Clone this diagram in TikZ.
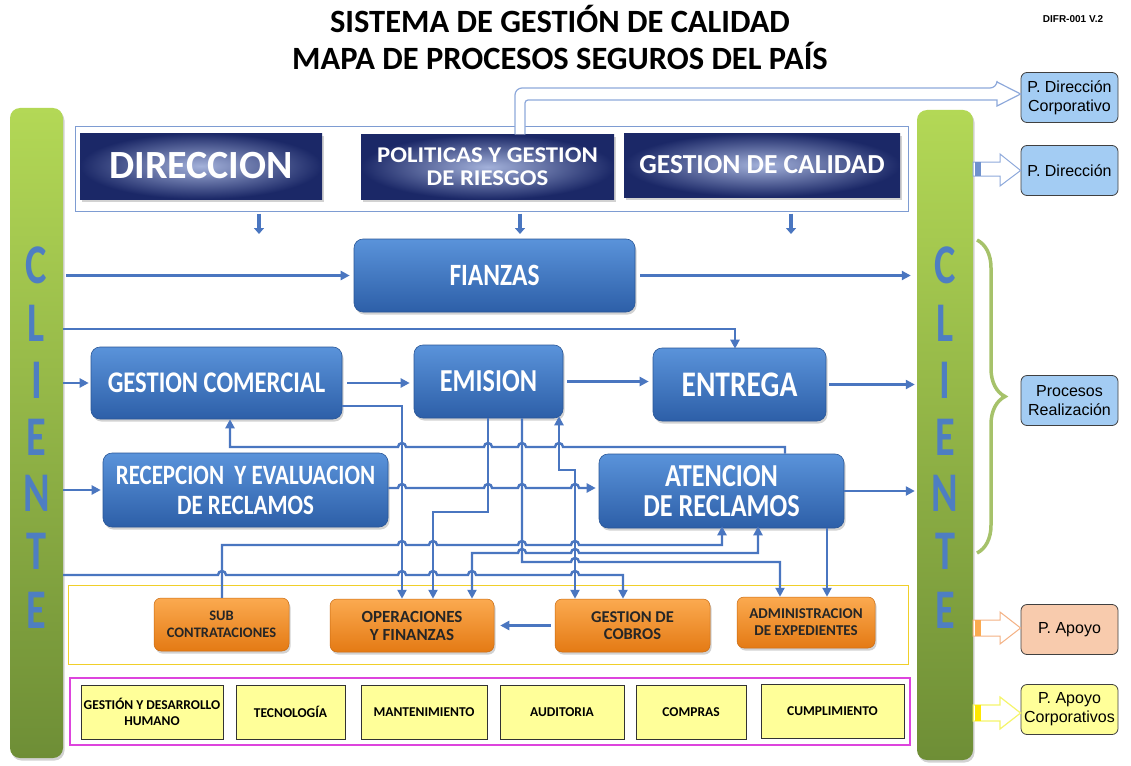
\documentclass[tikz,border=0pt]{standalone}
\usepackage{fontspec}
\setmainfont{Carlito}
\newfontfamily\condf[FakeStretch=0.82]{Carlito}
\newfontfamily\widef[FakeStretch=1.1]{Carlito}
\newfontfamily\clientf[FakeStretch=0.72]{Carlito}
\newfontfamily\arialf{Liberation Sans}
\usetikzlibrary{arrows.meta,shadows,decorations.pathreplacing}
\definecolor{connc}{HTML}{4A76C0}
\definecolor{boxT}{HTML}{5A93DA}
\definecolor{boxB}{HTML}{2D5FA8}
\definecolor{boxD}{HTML}{2A5797}
\definecolor{navyO}{HTML}{1B2867}
\definecolor{navyI}{HTML}{A3B1DA}
\definecolor{orT}{HTML}{FBAA50}
\definecolor{orB}{HTML}{E47A14}
\definecolor{orD}{HTML}{C96A10}
\definecolor{ylw}{HTML}{FFFF99}
\definecolor{grT}{HTML}{B3D856}
\definecolor{grB}{HTML}{6E8E36}
\definecolor{clientec}{HTML}{4E7EC2}
\definecolor{legblue}{HTML}{A3CCF3}
\definecolor{legor}{HTML}{F8CBAD}
\definecolor{frameblue}{HTML}{7E9CD2}
\definecolor{frameyel}{HTML}{F0CF2A}
\definecolor{framemag}{HTML}{DD44DD}
\definecolor{bracec}{HTML}{A6C26A}
\definecolor{hollowblue}{HTML}{8EA9DB}
\definecolor{hollowor}{HTML}{F4B183}
\definecolor{hollowyel}{HTML}{F5F56A}
\newcommand\hop[2]{-- ({#1-4},#2) arc[start angle=180,end angle=0,radius=4pt]}
\tikzset{
  shd/.style={drop shadow={opacity=0.35,shadow xshift=1.5pt,shadow yshift=-2.5pt}},
  bluebox/.style={rounded corners=9pt, top color=boxT, bottom color=boxB, draw=boxD, line width=0.6pt, shd, text=white, align=center, inner sep=0pt},
  navybox/.style={inner color=navyI, outer color=navyO, text=white, align=center, inner sep=0pt, shd},
  orbox/.style={rounded corners=7pt, top color=orT, bottom color=orB, draw=orD, line width=0.5pt, shd, text=black!85, align=center, inner sep=0pt},
  ybox/.style={fill=ylw, draw=black!80, line width=0.8pt, font=\bfseries\fontsize{13.5}{16}\selectfont, align=center, inner sep=0pt, minimum height=54pt},
  legbox/.style={rounded corners=6pt, draw=black!75, line width=0.8pt, font=\arialf\fontsize{16}{19}\selectfont, align=center, inner sep=0pt, minimum width=97pt, minimum height=50pt},
  bar/.style={rounded corners=10pt, top color=grT, bottom color=grB, shd, inner sep=0pt},
  cliente/.style={text=clientec, font=\clientf\bfseries\fontsize{56}{56}\selectfont, inner sep=0pt},
  conn/.style={draw=connc, line width=2.4pt},
  arr/.style={-{Triangle[length=9pt,width=9pt]}},
  rarr/.style={{Triangle[length=9pt,width=9pt]}-},
  darr/.style={{Triangle[length=9pt,width=9pt]}-{Triangle[length=9pt,width=9pt]}},
  fat/.style={draw=connc, line width=4.5pt, -{Triangle[length=6pt,width=10pt]}},
}
\begin{document}
\begin{tikzpicture}[x=1pt,y=-1pt]
\useasboundingbox[fill=white] (0,0) rectangle (1131,765);

% titles
\node[font=\bfseries\fontsize{32.5}{34}\selectfont] (t1) at (560,19) {SISTEMA DE GESTIÓN DE CALIDAD};
\node[font=\bfseries\fontsize{32.5}{34}\selectfont] (t2) at (560,56) {MAPA DE PROCESOS SEGUROS DEL PAÍS};
\node[font=\arialf\bfseries\fontsize{10}{12}\selectfont] (ver) at (1073,19) {DIFR-001 V.2};

% client bars
\node[bar, minimum width=53pt, minimum height=650pt] (lbar) at (36.5,433) {};
\node[bar, minimum width=56pt, minimum height=650pt] (rbar) at (945,435) {};
\foreach \l/\yy [count=\i] in {C/265,L/323,I/380,E/437,N/493,T/551,E/610}{
  \node[cliente] (cl\i) at (36.5,\yy) {\l};
  \node[cliente] (cr\i) at (945,\yy) {\l};
}

% frames
\node[draw=frameblue, line width=1pt, minimum width=833pt, minimum height=85pt, inner sep=0pt] (tf) at (491.5,168.5) {};
\node[draw=frameyel, line width=1pt, minimum width=840pt, minimum height=79pt, inner sep=0pt] (yf) at (488,624.5) {};
\node[draw=framemag, line width=1.6pt, minimum width=840pt, minimum height=67pt, inner sep=0pt] (pf) at (490,711.5) {};

% top boxes
\node[navybox, minimum width=242pt, minimum height=66pt, font=\bfseries\fontsize{40}{42}\selectfont] (dir) at (201,166) {DIRECCION};
\node[navybox, minimum width=253pt, minimum height=65pt, font=\widef\bfseries\fontsize{22.5}{23}\selectfont] (pol) at (487.5,167) {POLITICAS Y GESTION\\DE RIESGOS};
\node[navybox, minimum width=276pt, minimum height=64pt, font=\bfseries\fontsize{27.5}{30}\selectfont] (gdc) at (762,165) {GESTION DE CALIDAD};

% blue process boxes
\node[bluebox, minimum width=281pt, minimum height=73pt, font=\condf\bfseries\fontsize{31}{32}\selectfont] (fz) at (494.5,275.5) {FIANZAS};
\node[bluebox, minimum width=251pt, minimum height=72pt, font=\condf\bfseries\fontsize{30}{32}\selectfont] (gc) at (216.5,383) {GESTION COMERCIAL};
\node[bluebox, minimum width=149pt, minimum height=73pt, font=\condf\bfseries\fontsize{32}{34}\selectfont] (em) at (488.5,381.5) {EMISION};
\node[bluebox, minimum width=173pt, minimum height=73pt, font=\condf\bfseries\fontsize{36}{38}\selectfont] (en) at (739.5,384.5) {ENTREGA};
\node[bluebox, minimum width=285pt, minimum height=74pt, font=\condf\bfseries\fontsize{28}{30}\selectfont] (re) at (245.5,490) {RECEPCION\ \ Y EVALUACION\\DE RECLAMOS};
\node[bluebox, minimum width=245pt, minimum height=74pt, font=\condf\bfseries\fontsize{32}{30}\selectfont] (at) at (721.5,491) {ATENCION\\DE RECLAMOS};

% orange support boxes
\node[orbox, minimum width=135pt, minimum height=53pt, font=\bfseries\fontsize{14.5}{17}\selectfont] (sc) at (221.5,624.5) {SUB\\CONTRATACIONES};
\node[orbox, minimum width=164pt, minimum height=53pt, font=\bfseries\fontsize{17}{18}\selectfont] (op) at (412,625.5) {OPERACIONES\\Y FINANZAS};
\node[orbox, minimum width=155pt, minimum height=53pt, font=\bfseries\fontsize{16.5}{17}\selectfont] (co) at (632.5,625.5) {GESTION DE\\COBROS};
\node[orbox, minimum width=138pt, minimum height=51pt, font=\bfseries\fontsize{15}{17}\selectfont] (ad) at (806,622.5) {ADMINISTRACION\\DE EXPEDIENTES};

% yellow corporate support boxes
\node[ybox, minimum width=142pt] (y1) at (152,712) {GESTIÓN Y DESARROLLO\\HUMANO};
\node[ybox, minimum width=109pt] (y2) at (290.5,712) {TECNOLOGÍA};
\node[ybox, minimum width=126pt] (y3) at (424,712) {MANTENIMIENTO};
\node[ybox, minimum width=124pt] (y4) at (562,712) {AUDITORIA};
\node[ybox, minimum width=110pt] (y5) at (691,712) {COMPRAS};
\node[ybox, minimum width=143pt] (y6) at (832.5,711) {CUMPLIMIENTO};

% legend
\node[legbox, fill=legblue] (l1) at (1069.5,97.5) {P. Dirección\\Corporativo};
\node[legbox, fill=legblue] (l2) at (1069.5,170.5) {P. Dirección};
\node[legbox, fill=legblue] (l3) at (1069.5,400.5) {Procesos\\Realización};
\node[legbox, fill=legor] (l4) at (1069.5,629.5) {P. Apoyo};
\node[legbox, fill=ylw] (l5) at (1069.5,709.5) {P. Apoyo\\Corporativos};

% hollow arrow from POLITICAS to P. Direccion Corporativo
\draw[draw=hollowblue, fill=white, line width=1.2pt, rounded corners=7pt]
  (515,0 |- pol.north) -- (515,88) -- (997,88) [sharp corners] -- (997,82) -- (l1.west |- 0,94) -- (997,106) -- (997,100) [rounded corners=3pt] -- (525,100) -- (525,0 |- pol.north);

% hollow legend arrows
\draw[draw=hollowblue, fill=white, line width=1pt] (rbar.east |- 0,162) -- (1000,162) -- (1000,154) -- (l2.west) -- (1000,186) -- (1000,176) -- (rbar.east |- 0,176) -- cycle;
\fill[connc!80] (975,162) rectangle (981,176);
\draw[draw=hollowor, fill=white, line width=1pt] (rbar.east |- 0,620) -- (1000,620) -- (1000,612) -- (l4.west |- 0,628) -- (1000,644) -- (1000,636) -- (rbar.east |- 0,636) -- cycle;
\fill[orT] (975,620) rectangle (981,636);
\draw[draw=hollowyel, fill=white, line width=1.2pt] (rbar.east |- 0,705) -- (1000,705) -- (1000,697) -- (l5.west |- 0,713) -- (1000,729) -- (1000,721) -- (rbar.east |- 0,721) -- cycle;
\fill[yellow!90!orange] (975,705) rectangle (981,721);

% brace
\draw[draw=bracec, line width=3.5pt, decorate, decoration={brace, amplitude=28pt}] (977,240) -- (977,553);

% top small down arrows
\draw[fat] (259,0 |- tf.south) ++(0,2) -- (259,234);
\draw[fat] (520,0 |- tf.south) ++(0,2) -- (520,234);
\draw[fat] (791,0 |- tf.south) ++(0,2) -- (791,234);

% main flow
\draw[conn, arr] (lbar.east |- fz.west) ++(3,0) -- ([xshift=-4pt]fz.west);
\draw[conn, arr] ([xshift=5pt]fz.east) -- ([xshift=-6pt]rbar.west |- fz.east);
\draw[conn, arr] (lbar.east |- 0,329) -- (735,329) -- ([yshift=-1pt]735,0 |- en.north);
\draw[conn, arr] (lbar.east |- gc.west) -- ([xshift=-2pt]gc.west);
\draw[conn, arr] ([xshift=5pt]gc.east) -- ([xshift=-4pt]em.west |- gc.east);
\draw[conn, arr] ([xshift=4pt]em.east) -- ([xshift=-4pt]en.west |- em.east);
\draw[conn, arr] ([xshift=3pt]en.east) -- ([xshift=-2pt]rbar.west |- en.east);
\draw[conn, arr] (lbar.east |- re.west) -- ([xshift=-2pt]re.west);
\draw[conn, arr] (at.east) -- ([xshift=-2pt]rbar.west |- at.east);

% Recepcion -> Atencion
\draw[conn, arr] (re.east |- 0,488) \hop{402}{488} \hop{488}{488} \hop{522}{488} \hop{575}{488} -- ([xshift=-3pt]at.west |- 0,488);
% Gestion comercial -> Operaciones
\draw[conn, arr] ([yshift=-23pt]gc.east) -- (402,406) -- (402,0 |- op.north);
% Atencion -> Gestion comercial
\draw[conn, rarr] (230,0 |- gc.south) -- (230,447) \hop{402}{447} \hop{488}{447} \hop{522}{447} \hop{559}{447} -- (785,447) -- (785,0 |- at.north);
% Emision -> Operaciones
\draw[conn, arr] (488,0 |- em.south) -- (488,512) -- (433,512) -- (433,0 |- op.north);
% Emision -> Administracion
\draw[conn, arr] (522,0 |- em.south) -- (522,562) \hop{575}{562} -- (780,562) -- (780,0 |- ad.north);
% Cobros <-> Emision
\draw[conn, darr] (575,0 |- co.north) -- (575,470) -- (559,470) -- ([yshift=2pt]559,0 |- em.south);
% Subcontrataciones -> Atencion
\draw[conn, arr] (222,0 |- sc.north) -- (222,545) \hop{402}{545} \hop{433}{545} \hop{522}{545} \hop{575}{545} -- (722,545) -- ([yshift=2pt]722,0 |- at.south);
% Operaciones <-> Atencion
\draw[conn, darr] (472,0 |- op.north) -- (472,553) \hop{522}{553} \hop{575}{553} -- (758,553) -- ([yshift=2pt]758,0 |- at.south);
% Cliente -> Cobros
\draw[conn, arr] (lbar.east |- 0,575) \hop{222}{575} \hop{402}{575} \hop{433}{575} \hop{472}{575} \hop{575}{575} -- (623,575) -- (623,0 |- co.north);
% Atencion -> Administracion
\draw[conn, arr] (827,0 |- at.south) -- (827,0 |- ad.north);
% Cobros -> Operaciones
\draw[conn, arr] ([xshift=-4pt]co.west) -- ([xshift=6pt]op.east);
\end{tikzpicture}
\end{document}
